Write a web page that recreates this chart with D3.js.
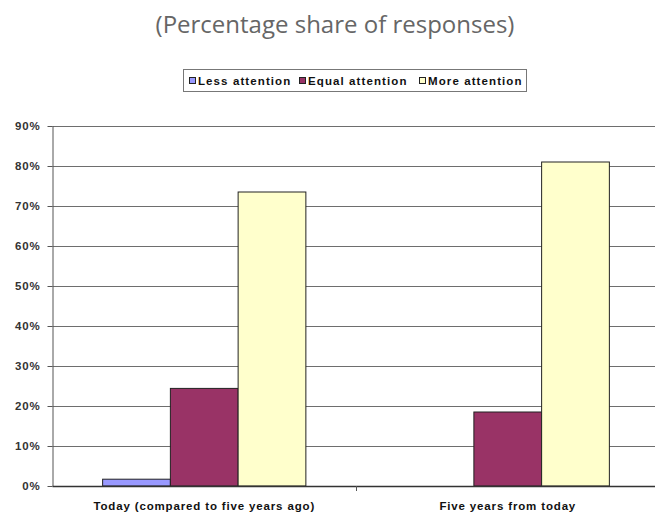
<!DOCTYPE html>
<html>
<head>
<meta charset="utf-8">
<script src="https://cdn.jsdelivr.net/npm/d3@7"></script>
<style>
  html, body { margin: 0; padding: 0; background: #fff; }
  svg { display: block; }
</style>
</head>
<body>
<svg id="chart" width="655" height="516"></svg>
<script>
// Survey: how much attention is given to the topic
const categories = ["Today (compared to five years ago)", "Five years from today"];
const seriesNames = ["Less attention", "Equal attention", "More attention"];
const seriesColors = ["#9999FF", "#993366", "#FFFFCC"];
const lessAttention = [0.017, 0];
const equalAttention = [0.244, 0.185];
const moreAttention = [0.735, 0.81];
const yTicks = [0, 0.1, 0.2, 0.3, 0.4, 0.5, 0.6, 0.7, 0.8, 0.9];

const seriesValues = [lessAttention, equalAttention, moreAttention];
const rows = categories.map((c, i) => ({
  category: c,
  values: seriesNames.map((s, j) => ({ series: s, color: seriesColors[j], value: seriesValues[j][i] }))
}));

const svg = d3.select("#chart");
const W = 655, H = 516;
const plot = { left: 52.5, right: 659.5, top: 126, bottom: 486 };
const labelFont = "'Liberation Sans', Arial, sans-serif";

// Title
svg.append("text")
  .attr("x", 335).attr("y", 33)
  .attr("text-anchor", "middle")
  .attr("font-family", "'Open Sans', sans-serif")
  .attr("font-size", 24)
  .attr("fill", "#666")
  .text("(Percentage share of responses)");

// Scales
const x0 = d3.scaleBand().domain(categories).range([plot.left, plot.right]).padding(0);
const x1 = d3.scaleBand().domain(seriesNames).range([0, x0.bandwidth()]).paddingInner(0).paddingOuter(0.74);
const y = d3.scaleLinear().domain([0, 0.9]).range([plot.bottom, plot.top]);

// Gridlines
svg.append("g")
  .selectAll("line")
  .data(yTicks.filter(t => t > 0))
  .join("line")
  .attr("x1", plot.left).attr("x2", W)
  .attr("y1", d => Math.round(y(d)) + 0.5).attr("y2", d => Math.round(y(d)) + 0.5)
  .attr("stroke", "#6e6e6e")
  .attr("stroke-width", 1);

// Bars
const groups = svg.append("g")
  .selectAll("g")
  .data(rows)
  .join("g")
  .attr("transform", d => `translate(${x0(d.category)},0)`);

groups.selectAll("rect")
  .data(d => d.values.filter(v => v.value > 0))
  .join("rect")
  .attr("x", d => x1(d.series))
  .attr("width", x1.bandwidth())
  .attr("y", d => y(d.value))
  .attr("height", d => y(0) - y(d.value))
  .attr("fill", d => d.color)
  .attr("stroke", "#222")
  .attr("stroke-width", 1);

// Y axis
const yAxis = d3.axisLeft(y)
  .tickValues(yTicks)
  .tickFormat(d3.format(".0%"))
  .tickSize(5)
  .tickPadding(7);

const gy = svg.append("g")
  .attr("transform", `translate(${plot.left},0)`)
  .call(yAxis);
gy.select(".domain").attr("stroke", "#555").attr("d", `M0.5,${plot.top}V${plot.bottom}`);
gy.selectAll(".tick line").attr("stroke", "#555");
gy.selectAll(".tick text")
  .attr("font-family", labelFont)
  .attr("font-size", 11.5)
  .attr("font-weight", "bold")
  .attr("letter-spacing", "0.8px")
  .attr("fill", "#333");

// X axis
const xAxis = d3.axisBottom(x0).tickSize(0).tickPadding(16);
const gx = svg.append("g")
  .attr("transform", `translate(0,${plot.bottom})`)
  .call(xAxis);
gx.select(".domain").attr("stroke", "#333").attr("stroke-width", 1.5).attr("d", `M${plot.left},0.5H${W}`);
gx.selectAll(".tick text")
  .attr("font-family", labelFont)
  .attr("font-size", 11.5)
  .attr("font-weight", "bold")
  .attr("letter-spacing", "0.85px")
  .attr("fill", "#111");
// Category divider tick marks
svg.append("g")
  .selectAll("line")
  .data(categories.slice(1))
  .join("line")
  .attr("x1", d => Math.round(x0(d)) + 0.5).attr("x2", d => Math.round(x0(d)) + 0.5)
  .attr("y1", plot.bottom).attr("y2", plot.bottom + 5)
  .attr("stroke", "#555");

// Legend
const legend = svg.append("g");
legend.append("rect")
  .attr("x", 183.5).attr("y", 69.5)
  .attr("width", 343).attr("height", 22)
  .attr("fill", "#fff")
  .attr("stroke", "#777");
const legendX = [189, 299, 419];
const items = legend.selectAll("g")
  .data(seriesNames)
  .join("g")
  .attr("transform", (d, i) => `translate(${legendX[i]},0)`);
items.append("rect")
  .attr("x", 0.5).attr("y", 77.5)
  .attr("width", 6).attr("height", 6)
  .attr("fill", (d, i) => seriesColors[i])
  .attr("stroke", "#222");
items.append("text")
  .attr("x", 9).attr("y", 85)
  .attr("font-family", labelFont)
  .attr("font-size", 11.5)
  .attr("font-weight", "bold")
  .attr("letter-spacing", "1.1px")
  .attr("fill", "#111")
  .text(d => d);
</script>
</body>
</html>
